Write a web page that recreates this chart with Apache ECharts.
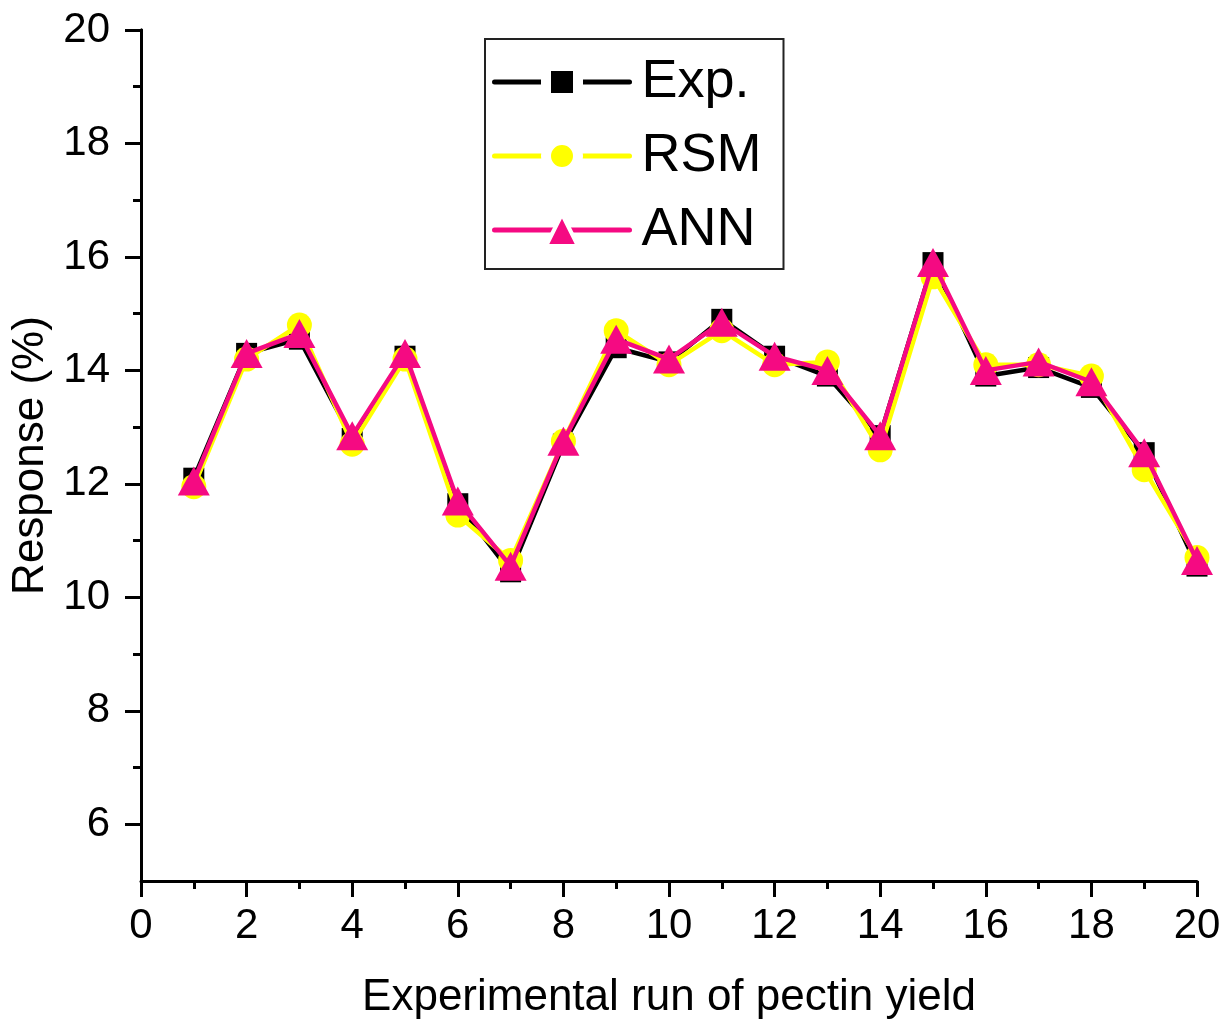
<!DOCTYPE html>
<html>
<head>
<meta charset="utf-8">
<script src="https://cdn.jsdelivr.net/npm/echarts@6/dist/echarts.min.js"></script>
<style>
html,body{margin:0;padding:0;background:#fff;}
#chart{width:1232px;height:1025px;}
</style>
</head>
<body>
<div id="chart"></div>
<script>
var runs = [1,2,3,4,5,6,7,8,9,10,11,12,13,14,15,16,17,18,19,20];
var expValues = [12.1, 14.3, 14.55, 12.8, 14.25, 11.65, 10.45, 12.7, 14.4, 14.15, 14.9, 14.25, 13.9, 12.85, 15.9, 13.9, 14.05, 13.7, 12.55, 10.55];
var rsmValues = [11.95, 14.2, 14.8, 12.7, 14.2, 11.45, 10.65, 12.75, 14.7, 14.1, 14.7, 14.1, 14.15, 12.6, 15.65, 14.1, 14.1, 13.9, 12.25, 10.7];
var annValues = [12.05, 14.3, 14.65, 12.85, 14.3, 11.7, 10.55, 12.75, 14.55, 14.2, 14.85, 14.25, 14.0, 12.85, 15.9, 14.0, 14.15, 13.8, 12.55, 10.65];
var yMajorTicks = [6, 8, 10, 12, 14, 16, 18, 20];
var yMinorTicks = [7, 9, 11, 13, 15, 17, 19];
var seriesNames = ['Exp.', 'RSM', 'ANN'];

function pairs(vals) { return runs.map(function (r, i) { return [r, vals[i]]; }); }

var FONT = 'Liberation Sans, Arial, sans-serif';
var chart = echarts.init(document.getElementById('chart'), null, {renderer: 'canvas'});
chart.setOption({
  animation: false,
  backgroundColor: '#fff',
  grid: {left: 141, right: 35, top: 30, bottom: 143},
  legend: {
    orient: 'vertical',
    left: 485,
    top: 39,
    padding: [16, 22, 12, 7],
    itemWidth: 135,
    itemHeight: 40,
    itemGap: 20,
    borderColor: '#222',
    borderWidth: 2,
    lineStyle: {width: 5, cap: 'round'},
    textStyle: {fontFamily: FONT, fontSize: 54, color: '#000', lineHeight: 54, padding: [0, 0, 0, 7]},
    data: [
      {name: seriesNames[0], itemStyle: {borderColor: '#fff', borderWidth: 10}},
      {name: seriesNames[1], itemStyle: {borderColor: '#fff', borderWidth: 10}},
      {name: seriesNames[2], itemStyle: {borderColor: '#fff', borderWidth: 4, borderJoin: 'round'}}
    ]
  },
  xAxis: {
    type: 'value',
    min: 0, max: 20, interval: 2,
    name: 'Experimental run of pectin yield',
    nameLocation: 'middle',
    nameGap: 95,
    nameTextStyle: {fontFamily: FONT, fontSize: 44, color: '#000'},
    axisLine: {show: true, lineStyle: {color: '#000', width: 3}},
    axisTick: {show: true, inside: false, length: 16, lineStyle: {color: '#000', width: 3}},
    minorTick: {show: true, splitNumber: 2, length: 8, lineStyle: {color: '#000', width: 3}},
    axisLabel: {fontFamily: FONT, fontSize: 42, color: '#000', margin: 24},
    splitLine: {show: false}
  },
  yAxis: [
    {
      type: 'value',
      min: 5, max: 20, interval: 1,
      position: 'left',
      axisLine: {show: true, onZero: false, lineStyle: {color: '#000', width: 3}},
      axisTick: {show: true, inside: false, length: 8, customValues: yMinorTicks, lineStyle: {color: '#000', width: 3}},
      axisLabel: {show: false},
      splitLine: {show: false}
    },
    {
      type: 'value',
      min: 5, max: 20, interval: 1,
      position: 'left',
      name: 'Response (%)',
      nameLocation: 'middle',
      nameRotate: 90,
      nameGap: 88,
      nameTextStyle: {fontFamily: FONT, fontSize: 44, color: '#000'},
      axisLine: {show: true, onZero: false, lineStyle: {color: '#000', width: 3}},
      axisTick: {show: true, inside: false, length: 16, customValues: yMajorTicks, lineStyle: {color: '#000', width: 3}},
      axisLabel: {show: true, customValues: yMajorTicks, fontFamily: FONT, fontSize: 42, color: '#000', margin: 31},
      splitLine: {show: false}
    }
  ],
  series: [
    {
      name: seriesNames[0], type: 'line', yAxisIndex: 0,
      data: pairs(expValues),
      symbol: 'rect', symbolSize: 21,
      itemStyle: {color: '#000'},
      lineStyle: {color: '#000', width: 4.5},
      z: 2
    },
    {
      name: seriesNames[1], type: 'line', yAxisIndex: 0,
      data: pairs(rsmValues),
      symbol: 'circle', symbolSize: 25,
      itemStyle: {color: '#FFFF00'},
      lineStyle: {color: '#FFFF00', width: 4.5},
      z: 3
    },
    {
      name: seriesNames[2], type: 'line', yAxisIndex: 0,
      data: pairs(annValues),
      symbol: 'triangle', symbolSize: [32, 29],
      itemStyle: {color: '#F50A82'},
      lineStyle: {color: '#F50A82', width: 4.5},
      z: 4
    }
  ]
});
</script>
</body>
</html>
